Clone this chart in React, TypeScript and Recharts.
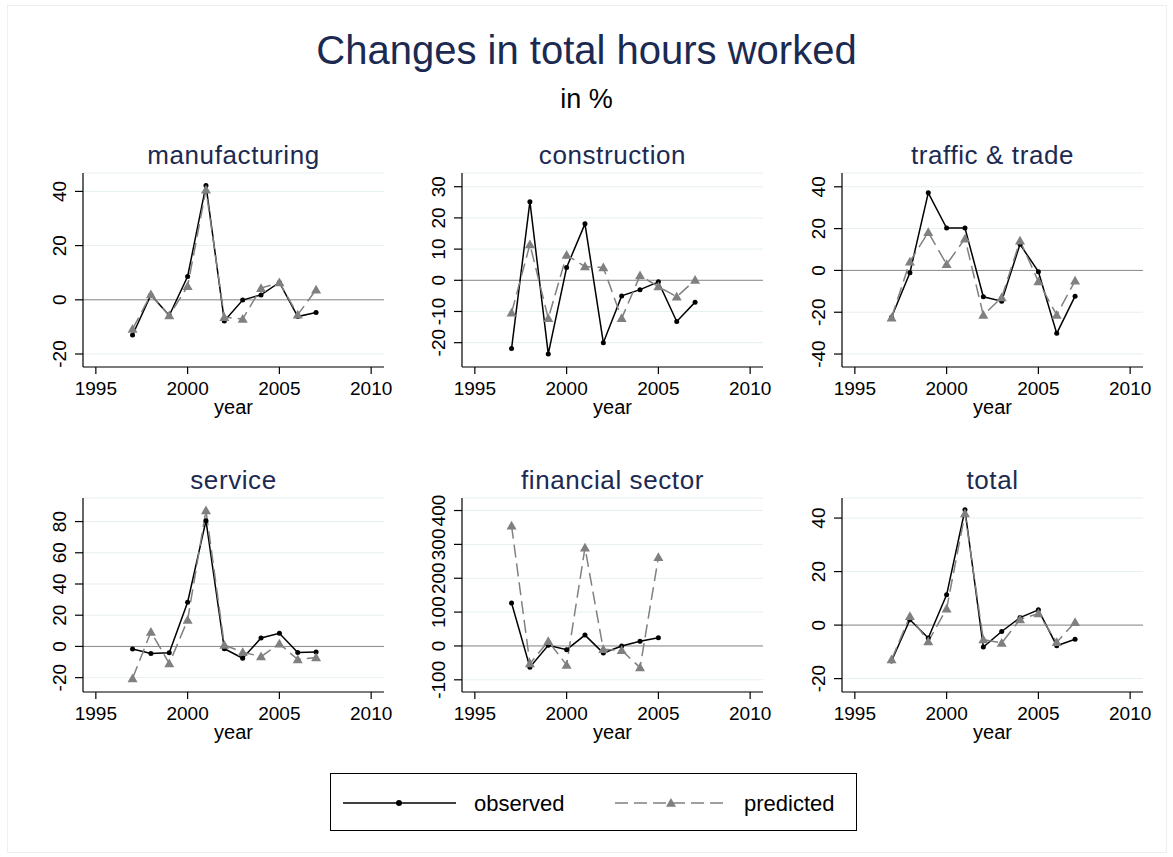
import React from "react";
import { LineChart, Line, XAxis, YAxis, CartesianGrid, ReferenceLine } from "recharts";

// years
const years = [1997, 1998, 1999, 2000, 2001, 2002, 2003, 2004, 2005, 2006, 2007];
const finYears = [1997, 1998, 1999, 2000, 2001, 2002, 2003, 2004, 2005];
const xTicks = [1995, 2000, 2005, 2010];

// observed / predicted, % change
const manufacturingObs = [-13, 1.8, -5.8, 8.6, 42.2, -7.8, -0.1, 1.8, 6.4, -6.2, -4.7];
const manufacturingPred = [-10.8, 2, -5.8, 5, 40.6, -6.4, -7.1, 4.3, 6.4, -5.5, 3.7];

const constructionObs = [-21.9, 25.2, -23.6, 4.1, 18.1, -20, -5, -3, -0.5, -13.2, -7];
const constructionPred = [-10.4, 11.5, -12.2, 8.1, 4.4, 4.1, -12.2, 1.5, -2, -5.3, 0.1];

const trafficObs = [-22.4, -1.1, 37.1, 20.3, 20.3, -12.6, -14.7, 12.5, -0.6, -30.1, -12.3];
const trafficPred = [-22.6, 4.2, 18.2, 2.9, 15.2, -21.3, -13, 14.2, -5.3, -21.3, -5];

const serviceObs = [-1.7, -4.5, -4.1, 28.3, 80.6, -1.5, -7.6, 5.4, 8.4, -3.9, -3.5];
const servicePred = [-20.5, 9.3, -11, 16.9, 87.1, 0.9, -3.7, -6.5, 1.7, -8.4, -7.1];

const financialObs = [127, -63, 2, -11, 32, -21, 0, 14, 24];
const financialPred = [355, -52, 14, -56, 290, -10, -13, -64, 262];

const totalObs = [-13.4, 2, -4.8, 11.3, 43.1, -8.2, -2.4, 2.8, 5.7, -7.7, -5.3];
const totalPred = [-12.9, 3.3, -6.1, 6.1, 41.7, -5.4, -6.7, 2.1, 4.3, -6.4, 1.1];

const FONT = '"Liberation Sans", Arial, Helvetica, sans-serif';
const NAVY = "#1c2a52";
const PRED = "#808080";

// plot boxes
const colLeft = [83, 462, 842];
const rowTop = [173, 498];
const plotW = 301;
const plotH = 194;
const YW = 45;
const XH = 55;
const MT = 10;
const MR = 10;

const panels = [
  { title: "manufacturing", yrs: years, obs: manufacturingObs, pred: manufacturingPred, domain: [-24.8, 46.8], ticks: [-20, 0, 20, 40], col: 0, row: 0 },
  { title: "construction", yrs: years, obs: constructionObs, pred: constructionPred, domain: [-27.8, 34.4], ticks: [-20, -10, 0, 10, 20, 30], col: 1, row: 0 },
  { title: "traffic & trade", yrs: years, obs: trafficObs, pred: trafficPred, domain: [-46.2, 46.6], ticks: [-40, -20, 0, 20, 40], col: 2, row: 0 },
  { title: "service", yrs: years, obs: serviceObs, pred: servicePred, domain: [-29.2, 95.1], ticks: [-20, 0, 20, 40, 60, 80], col: 0, row: 1 },
  { title: "financial sector", yrs: finYears, obs: financialObs, pred: financialPred, domain: [-136, 437], ticks: [-100, 0, 100, 200, 300, 400], col: 1, row: 1 },
  { title: "total", yrs: years, obs: totalObs, pred: totalPred, domain: [-25, 47.5], ticks: [-20, 0, 20, 40], col: 2, row: 1 },
];

const tickStyle = { fontSize: "19px", fontFamily: FONT, fill: "#000" };

const YTick = (props: any) => {
  const { x, y, payload } = props;
  return (
    <text x={x} y={y} transform={`rotate(-90, ${x}, ${y})`} textAnchor="middle" style={tickStyle}>
      {payload.value}
    </text>
  );
};

const XTick = (props: any) => {
  const { x, y, payload } = props;
  return (
    <text x={x} y={y + 20} textAnchor="middle" style={tickStyle}>
      {payload.value}
    </text>
  );
};

const triangle = (p: any) => {
  const { cx, cy, index } = p;
  if (cx == null || cy == null) return <g key={`t-${index}`} />;
  const s = 5;
  return <path key={`t-${index}`} d={`M${cx},${cy - s} L${cx + s},${cy + s * 0.75} L${cx - s},${cy + s * 0.75} Z`} fill={PRED} />;
};

function Panel({ p }: { p: (typeof panels)[number] }) {
  const rows = p.yrs.map((yr, i) => ({ year: yr, observed: p.obs[i], predicted: p.pred[i] }));
  const left = colLeft[p.col];
  const top = rowTop[p.row];
  return (
    <>
      <div
        style={{
          position: "absolute",
          left,
          top: top - 31,
          width: plotW,
          textAlign: "center",
          fontSize: 26,
          lineHeight: "26px",
          letterSpacing: 0.6,
          color: NAVY,
          fontFamily: FONT,
        }}
      >
        {p.title}
      </div>
      <div style={{ position: "absolute", left: left - YW, top: top - MT }}>
        <LineChart width={YW + plotW + MR} height={MT + plotH + XH} data={rows} margin={{ top: MT, right: MR, left: 0, bottom: 0 }}>
          <CartesianGrid horizontal vertical={false} stroke="#e6eff1" />
          <ReferenceLine y={0} stroke="#8a8a8a" strokeWidth={1} />
          <XAxis
            dataKey="year"
            type="number"
            domain={[1994.3, 2010.7]}
            ticks={xTicks}
            allowDataOverflow
            height={XH}
            stroke="#000"
            strokeWidth={1.2}
            tickSize={7}
            tickMargin={1}
            tick={<XTick />}
            label={{ value: "year", position: "insideBottom", offset: 8, style: { fontSize: "20px", fontFamily: FONT, fill: "#000" } }}
          />
          <YAxis
            type="number"
            domain={p.domain}
            ticks={p.ticks}
            allowDataOverflow
            width={YW}
            stroke="#000"
            strokeWidth={1.2}
            tickSize={8}
            tickMargin={9}
            tick={<YTick />}
          />
          <Line
            type="linear"
            dataKey="observed"
            stroke="#000"
            strokeWidth={1.5}
            dot={{ r: 2.5, fill: "#000", stroke: "none" }}
            isAnimationActive={false}
          />
          <Line
            type="linear"
            dataKey="predicted"
            stroke={PRED}
            strokeWidth={1.5}
            strokeDasharray="13 6"
            dot={triangle}
            isAnimationActive={false}
          />
        </LineChart>
      </div>
    </>
  );
}

export default function App() {
  return (
    <div style={{ position: "absolute", left: 0, top: 0, width: 1173, height: 857, background: "#fff", fontFamily: FONT }}>
      <div style={{ position: "absolute", left: 7, top: 5, width: 1158, height: 846, border: "1px solid #efefef" }} />
      <div style={{ position: "absolute", left: 0, top: 30, width: 1173, textAlign: "center", fontSize: 40, lineHeight: "40px", color: NAVY }}>
        Changes in total hours worked
      </div>
      <div style={{ position: "absolute", left: 0, top: 86, width: 1173, textAlign: "center", fontSize: 27, lineHeight: "27px", color: "#000" }}>
        in %
      </div>
      {panels.map((p) => (
        <Panel key={p.title} p={p} />
      ))}
      {/* legend */}
      <div style={{ position: "absolute", left: 330, top: 773, width: 525, height: 56, border: "1px solid #000" }}>
        <svg width={525} height={56} style={{ position: "absolute", left: 0, top: 0 }}>
          <line x1={12} x2={125} y1={29} y2={29} stroke="#000" strokeWidth={1.5} />
          <circle cx={68} cy={29} r={3} fill="#000" />
          <text x={143} y={37} fontSize={22} fill="#000" fontFamily={FONT}>observed</text>
          <line x1={284} x2={397} y1={29} y2={29} stroke={PRED} strokeWidth={1.5} strokeDasharray="13 6" />
          <path d="M340,24 L345,32.75 L335,32.75 Z" fill={PRED} />
          <text x={413} y={37} fontSize={22} fill="#000" fontFamily={FONT}>predicted</text>
        </svg>
      </div>
    </div>
  );
}
